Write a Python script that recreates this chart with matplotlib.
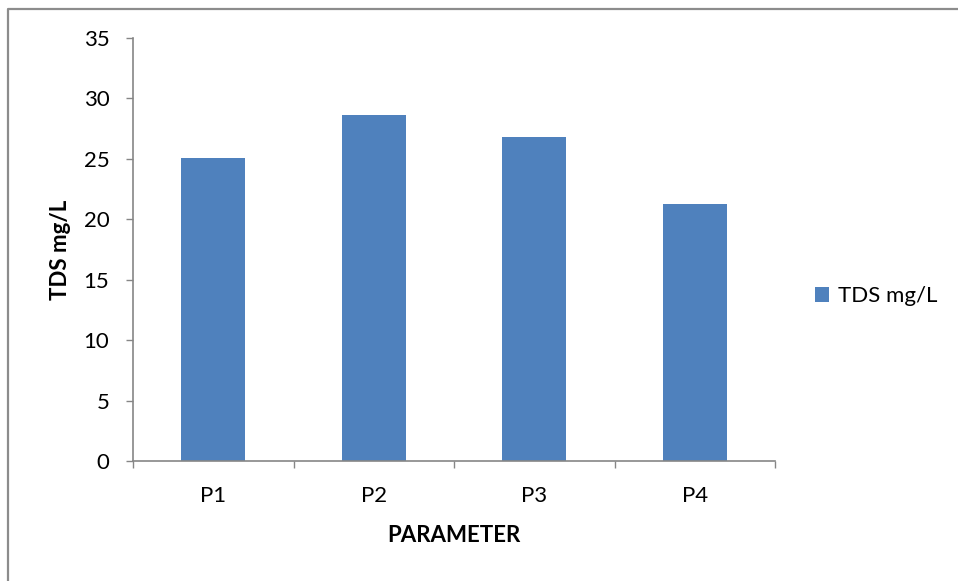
import matplotlib.pyplot as plt
from matplotlib.lines import Line2D
import numpy as np

# data
categories = ['P1', 'P2', 'P3', 'P4']
tds_values = [25.1, 28.6, 26.8, 21.3]
y_ticks = [0, 5, 10, 15, 20, 25, 30, 35]

plt.rcParams['font.family'] = ['Lato', 'DejaVu Sans']

bar_color = '#4F81BD'
axis_gray = '#868686'
W, H = 958, 581

fig = plt.figure(figsize=(W / 100, H / 100), dpi=100)
# chart border: only the left and top edges show in the reference
fig.lines.append(Line2D([7.5 / W, 7.5 / W, 1.0], [0.0, 1 - 8.5 / H, 1 - 8.5 / H],
                        transform=fig.transFigure, color='#8c8c8c', linewidth=1.6))

ax = fig.add_axes([133 / W, 1 - 461 / H, (775 - 133) / W, (461 - 38) / H])

x = np.arange(len(categories))
ax.bar(x, tds_values, width=0.4, color=bar_color, label='TDS mg/L', zorder=2)

ax.set_xlim(-0.5, len(categories) - 0.5)
ax.set_ylim(0, 35)
ax.set_yticks(y_ticks)
ax.set_yticklabels([str(v) for v in y_ticks], fontsize=16)

# category labels in the middle, tick marks on the boundaries
ax.set_xticks(x)
ax.set_xticklabels(categories, fontsize=16)
ax.tick_params(axis='x', which='major', length=0, pad=18)
ax.set_xticks(np.arange(-0.5, len(categories), 1.0), minor=True)
ax.tick_params(axis='x', which='minor', length=5, width=1, color=axis_gray, direction='out')
ax.tick_params(axis='y', length=5, width=1, color=axis_gray, direction='out', pad=12)

for side in ['top', 'right']:
    ax.spines[side].set_visible(False)
for side in ['left', 'bottom']:
    ax.spines[side].set_color(axis_gray)
    ax.spines[side].set_linewidth(1.2)

ax.set_ylabel('TDS mg/L', fontsize=16, fontweight='bold', labelpad=9)
ax.set_xlabel('PARAMETER', fontsize=16, fontweight='bold', labelpad=14)

fig.legend(*ax.get_legend_handles_labels(), loc='center left',
           bbox_to_anchor=(815 / W, 1 - 296 / H), frameon=False,
           fontsize=16, handlelength=0.65, handleheight=0.65, handletextpad=0.4,
           borderpad=0, borderaxespad=0)

fig.savefig('out.png', dpi=100)
